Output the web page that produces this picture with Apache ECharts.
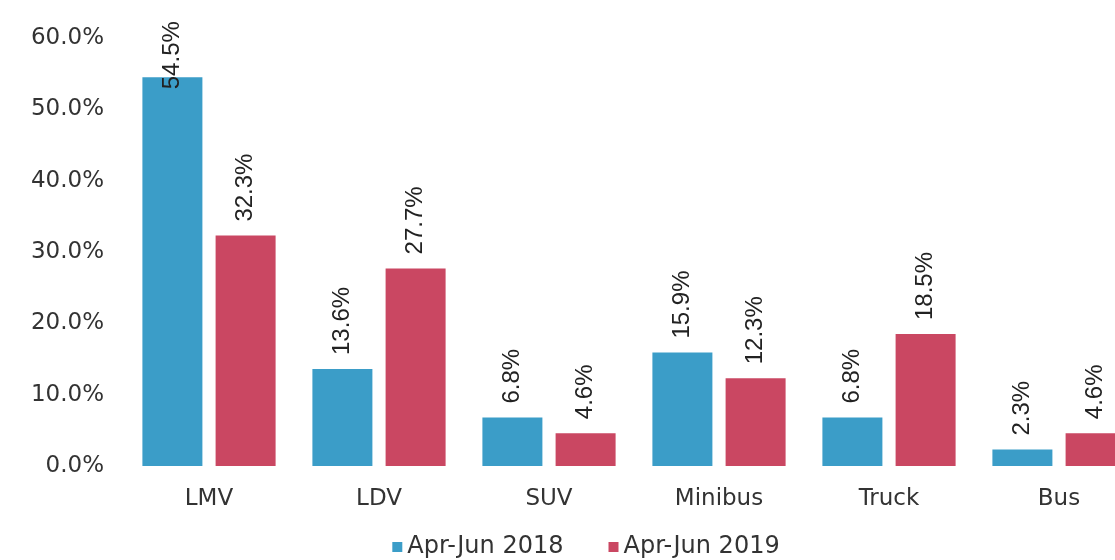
<!DOCTYPE html>
<html>
<head>
<meta charset="utf-8">
<script src="https://cdn.jsdelivr.net/npm/echarts@6/dist/echarts.min.js"></script>
<style>
html,body{margin:0;padding:0;background:#fff;overflow:hidden;width:1115px;height:560px;}
#chart{width:1172px;height:560px;}
</style>
</head>
<body>
<div id="chart"></div>
<script>
const categories = ['LMV', 'LDV', 'SUV', 'Minibus', 'Truck', 'Bus'];
const seriesNames = ['Apr-Jun 2018', 'Apr-Jun 2019'];
const values2018 = [54.5, 13.6, 6.8, 15.9, 6.8, 2.3];
const values2019 = [32.3, 27.7, 4.6, 12.3, 18.5, 4.6];
const yTicks = { min: 0, max: 60, interval: 10 };

const colors = ['#3b9dc8', '#ca4762'];

function makeData(vals) {
  return vals.map(v => {
    const item = { value: v };
    if (v > 52) item.label = { distance: -12 };
    return item;
  });
}

const labelStyle = {
  show: true,
  position: 'top',
  rotate: 90,
  align: 'left',
  verticalAlign: 'middle',
  distance: 14,
  fontFamily: 'Liberation Sans',
  fontSize: 24,
  color: '#222',
  formatter: p => p.value.toFixed(1) + '%'
};

const chart = echarts.init(document.getElementById('chart'));
chart.setOption({
  animation: false,
  backgroundColor: '#fff',
  color: colors,
  grid: { left: 124, top: 38, height: 428, width: 1020 },
  legend: {
    top: 530,
    left: 'center',
    icon: 'rect',
    itemWidth: 10,
    itemHeight: 10,
    itemGap: 45,
    textStyle: { fontFamily: 'DejaVu Sans', fontSize: 24, color: '#333' },
    data: seriesNames
  },
  xAxis: {
    type: 'category',
    data: categories,
    axisLine: { show: false },
    axisTick: { show: false },
    axisLabel: { fontFamily: 'DejaVu Sans', fontSize: 23, color: '#333', margin: 22, interval: 0 }
  },
  yAxis: {
    type: 'value',
    min: yTicks.min,
    max: yTicks.max,
    interval: yTicks.interval,
    axisLine: { show: false },
    axisTick: { show: false },
    splitLine: { show: false },
    axisLabel: {
      fontFamily: 'DejaVu Sans', fontSize: 23, color: '#333', margin: 20,
      formatter: v => v.toFixed(1) + '%'
    }
  },
  series: [
    { name: seriesNames[0], type: 'bar', data: makeData(values2018), barWidth: 60, barGap: '22%', label: labelStyle },
    { name: seriesNames[1], type: 'bar', data: makeData(values2019), barWidth: 60, barGap: '22%', label: labelStyle }
  ]
});
</script>
</body>
</html>
